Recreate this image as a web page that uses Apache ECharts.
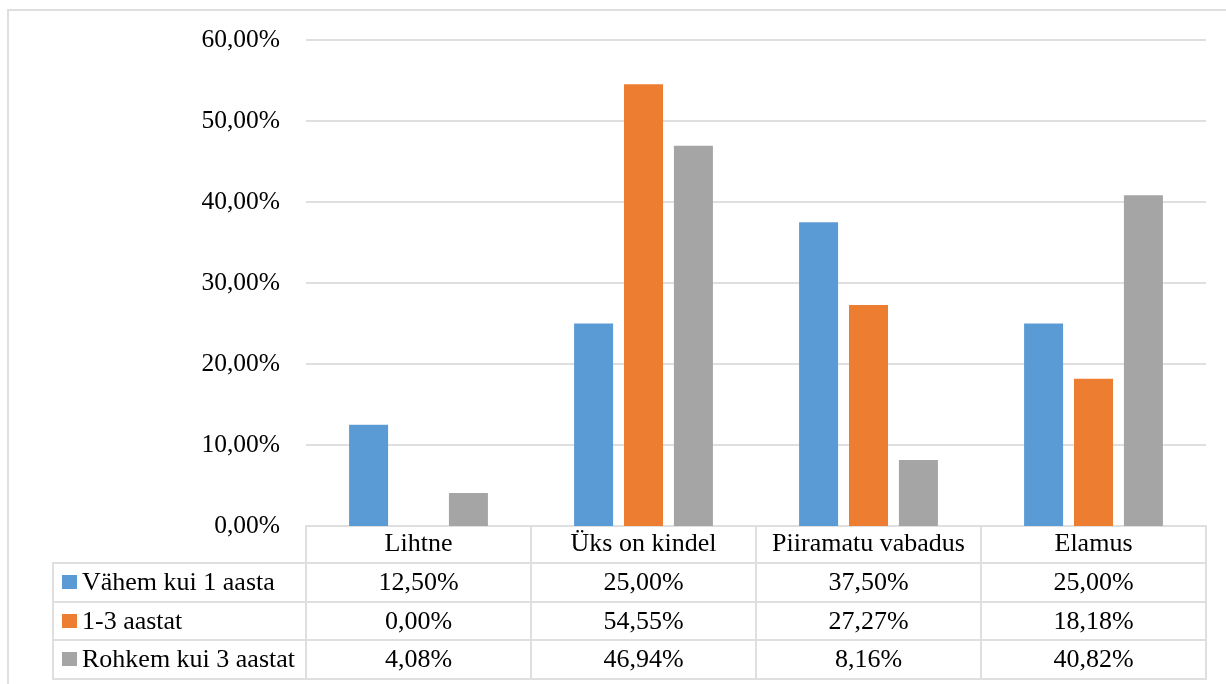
<!DOCTYPE html>
<html>
<head>
<meta charset="utf-8">
<script src="https://cdn.jsdelivr.net/npm/echarts@6/dist/echarts.min.js"></script>
<style>
  html, body { margin: 0; padding: 0; background: #fff; }
  #chart { width: 1226px; height: 684px; }
</style>
</head>
<body>
<div id="chart"></div>
<script>
// Categories and series values (percent)
const categories = ['Lihtne', 'Üks on kindel', 'Piiramatu vabadus', 'Elamus'];
const seriesNames = ['Vähem kui 1 aasta', '1-3 aastat', 'Rohkem kui 3 aastat'];
const lessThanOneYear = [12.50, 25.00, 37.50, 25.00];
const oneToThreeYears = [0.00, 54.55, 27.27, 18.18];
const moreThanThreeYears = [4.08, 46.94, 8.16, 40.82];
const yMin = 0, yMax = 60, yStep = 10;

const seriesValues = [lessThanOneYear, oneToThreeYears, moreThanThreeYears];
const colors = ['#5b9bd5', '#ed7d31', '#a5a5a5'];
const FONT = '"Liberation Serif", "Times New Roman", serif';
const LINE = '#dfdfdf';
const LW = 2;

const pct = v => v.toFixed(2).replace('.', ',') + '%';

const chart = echarts.init(document.getElementById('chart'), null, { renderer: 'canvas' });

// Table geometry (header row sits under the axis, then one row per series)
const headerH = 37;
const rowH = 38.5;
const tableLeft = 53;

const option = {
  animation: false,
  backgroundColor: '#fff',
  grid: { left: 306, right: 20, top: 40, bottom: 158, containLabel: false },
  xAxis: {
    type: 'category',
    data: categories,
    z: 1,
    axisLine: { show: true, lineStyle: { color: LINE, width: LW } },
    axisTick: { show: true, interval: 0, length: headerH + rowH * 3, lineStyle: { color: LINE, width: LW } },
    axisLabel: {
      interval: 0, margin: 0, lineHeight: headerH,
      fontFamily: FONT, fontSize: 26, color: '#000'
    },
    splitLine: { show: false }
  },
  yAxis: {
    type: 'value',
    min: yMin, max: yMax, interval: yStep,
    axisLine: { show: false },
    axisTick: { show: false },
    axisLabel: {
      margin: 26, fontFamily: FONT, fontSize: 25.5, color: '#000',
      formatter: v => pct(v)
    },
    splitLine: { show: true, lineStyle: { color: LINE, width: LW } }
  },
  series: seriesValues.map((vals, i) => ({
    name: seriesNames[i],
    type: 'bar',
    data: vals,
    barWidth: 39,
    barGap: '28%',
    z: 3,
    itemStyle: { color: colors[i] }
  }))
};

chart.setOption(option);

// Build the data table below the plot from the axis scales
function buildTable() {
  const c0 = chart.convertToPixel({ xAxisIndex: 0 }, 0);
  const c1 = chart.convertToPixel({ xAxisIndex: 0 }, 1);
  const band = c1 - c0;
  const plotLeft = c0 - band / 2;
  const plotRight = plotLeft + band * categories.length;
  const top = chart.convertToPixel({ yAxisIndex: 0 }, yMin);
  const rowTop = top + headerH;
  const bottom = rowTop + rowH * seriesNames.length;

  const els = [];
  // outer chart frame
  els.push({
    type: 'rect', silent: true, z: 0,
    shape: { x: 8, y: 10, width: 1240, height: 700 },
    style: { fill: null, stroke: LINE, lineWidth: LW }
  });
  // horizontal table rules
  for (let r = 0; r <= seriesNames.length; r++) {
    const y = Math.round(rowTop + r * rowH);
    els.push({
      type: 'line', silent: true, z: 1,
      shape: { x1: tableLeft - 1, y1: y, x2: plotRight + 1, y2: y },
      style: { stroke: LINE, lineWidth: LW }
    });
  }
  // left edge of the series-name column
  els.push({
    type: 'line', silent: true, z: 1,
    shape: { x1: tableLeft, y1: Math.round(rowTop), x2: tableLeft, y2: Math.round(bottom) + 1 },
    style: { stroke: LINE, lineWidth: LW }
  });
  seriesNames.forEach((name, r) => {
    const cy = rowTop + r * rowH + rowH / 2;
    // legend key
    els.push({
      type: 'rect', silent: true, z: 2,
      shape: { x: tableLeft + 9, y: Math.round(cy - 7), width: 15, height: 14 },
      style: { fill: colors[r] }
    });
    els.push({
      type: 'text', silent: true, z: 2,
      x: tableLeft + 29, y: cy + 1,
      style: { text: name, font: '26px ' + FONT, fill: '#000', align: 'left', verticalAlign: 'middle' }
    });
    seriesValues[r].forEach((v, i) => {
      const cx = chart.convertToPixel({ xAxisIndex: 0 }, i);
      els.push({
        type: 'text', silent: true, z: 2,
        x: cx, y: cy + 1,
        style: { text: pct(v), font: '26px ' + FONT, fill: '#000', align: 'center', verticalAlign: 'middle' }
      });
    });
  });
  chart.setOption({ graphic: { elements: els } });
}

buildTable();
</script>
</body>
</html>
